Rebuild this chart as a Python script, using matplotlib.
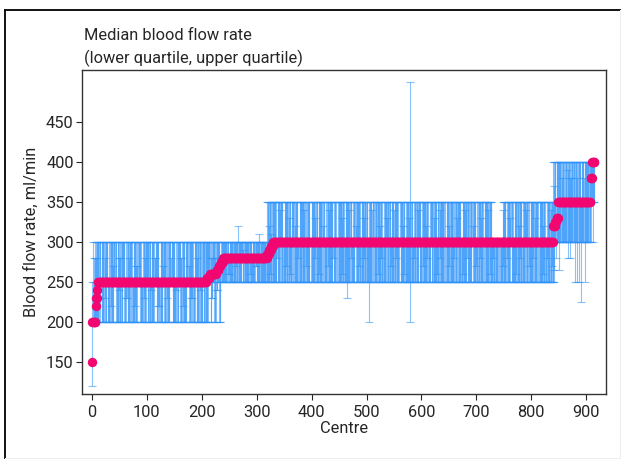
import matplotlib
matplotlib.use("Agg")
import matplotlib.pyplot as plt
from matplotlib.lines import Line2D
import numpy as np

plt.rcParams["font.family"] = ["Roboto", "DejaVu Sans"]

# ---- Data: centres ranked by median blood flow rate (ml/min) ----
# Each list is run-length coded as (value, number of consecutive centres).
MEDIAN_RUNS = [
    (150, 1), (200, 6), (220, 1), (230, 2), (240, 1),
    (250, 198),
    (255, 6), (260, 12), (265, 4), (270, 4), (275, 4),
    (280, 80),
    (285, 4), (290, 4), (295, 3),
    (300, 510),
    (320, 4), (325, 2), (330, 3),
    (350, 59),
    (380, 3),
    (400, 5),
]

UPPER_Q_RUNS = [
    # centres 0-10
    (200, 1), (250, 1), (300, 1), (280, 1), (250, 1), (300, 1), (280, 1),
    (300, 1), (280, 1), (300, 2),
    # median 250
    (300, 5), (250, 2), (300, 6), (280, 1), (300, 4), (250, 3), (300, 7),
    (270, 1), (300, 5), (250, 2), (300, 3), (280, 2), (300, 8), (250, 3),
    (300, 4), (280, 1), (300, 6), (250, 2), (300, 5), (270, 2), (300, 7),
    (250, 3), (300, 4), (280, 1), (300, 9), (250, 2), (300, 5), (280, 2),
    (300, 6), (250, 3), (300, 4), (270, 1), (300, 7), (250, 2), (300, 5),
    (280, 1), (300, 6), (250, 3), (300, 8), (280, 2), (300, 5), (250, 2),
    (300, 6), (270, 1), (300, 7), (250, 2), (300, 5), (280, 1), (300, 6),
    (250, 2), (300, 8),
    # step 255-275
    (300, 8), (280, 2), (300, 6), (280, 1), (300, 7), (280, 2), (300, 4),
    # median 280
    (300, 10), (280, 2), (300, 15), (320, 1), (300, 9), (290, 1), (300, 14),
    (280, 2), (300, 11), (310, 1), (300, 14),
    # step 285-295
    (350, 4), (320, 1), (350, 3), (310, 1), (350, 2),
    # median 300
    (350, 6), (300, 2), (350, 4), (340, 1), (350, 5), (300, 3), (350, 7),
    (330, 1), (350, 3), (300, 2), (350, 6), (320, 1), (350, 4), (300, 3),
    (350, 8), (340, 1), (350, 3), (300, 2), (350, 5), (300, 3), (350, 6),
    (330, 1), (350, 4), (300, 2), (350, 7), (320, 1), (350, 3), (300, 3),
    (350, 5), (340, 1), (350, 6), (300, 2), (350, 4), (300, 3), (350, 8),
    (330, 1), (350, 3), (300, 2), (350, 6), (340, 1), (350, 4), (300, 3),
    (350, 5), (320, 1), (350, 7), (300, 2), (350, 4), (330, 1), (350, 6),
    (300, 3), (350, 5), (340, 1), (350, 3), (300, 2), (350, 8), (320, 1),
    (350, 4), (300, 3), (350, 6), (330, 1), (350, 5), (300, 2), (350, 4),
    (340, 1), (350, 7), (300, 3), (350, 5), (320, 1), (350, 3), (300, 2),
    (350, 6), (330, 1), (500, 1), (350, 4), (300, 3), (350, 6), (340, 1),
    (350, 5), (300, 2), (350, 7), (320, 1), (350, 4), (300, 3), (350, 6),
    (330, 1), (350, 5), (300, 2), (350, 4), (340, 1), (350, 8), (300, 3),
    (350, 5), (320, 1), (350, 6), (300, 2), (350, 4), (330, 1), (350, 7),
    (300, 3), (350, 5), (340, 1), (350, 6), (300, 2), (350, 4), (320, 1),
    (350, 5), (300, 3), (350, 6), (330, 1), (350, 4), (300, 2), (350, 7),
    (340, 1), (350, 5), (300, 20), (340, 1), (350, 5), (300, 2), (350, 6),
    (330, 1), (350, 4), (300, 3), (350, 7), (320, 1), (350, 5), (300, 2),
    (350, 6), (340, 1), (350, 4), (300, 3), (350, 8), (330, 1), (350, 5),
    (300, 2), (350, 6), (320, 1), (350, 4), (300, 3), (350, 7), (340, 1),
    (350, 3),
    # step 320-330
    (400, 1), (370, 1), (400, 3), (350, 1), (400, 3),
    # median 350
    (400, 6), (380, 1), (400, 4), (350, 2), (400, 5), (390, 1), (400, 3),
    (380, 2), (400, 6), (350, 1), (400, 4), (380, 1), (400, 5), (350, 2),
    (400, 4), (380, 1), (400, 11),
    # medians 380 and 400
    (400, 3), (400, 5),
]

LOWER_Q_RUNS = [
    # centres 0-10
    (120, 1), (200, 10),
    # median 250
    (200, 4), (250, 3), (200, 5), (230, 1), (200, 3), (250, 2), (200, 6),
    (220, 1), (200, 4), (250, 4), (200, 5), (240, 1), (200, 6), (250, 3),
    (200, 4), (230, 2), (200, 5), (250, 2), (200, 7), (220, 1), (200, 3),
    (250, 5), (200, 6), (230, 1), (200, 4), (250, 3), (200, 5), (240, 1),
    (200, 6), (250, 4), (200, 3), (220, 2), (200, 6), (250, 3), (200, 5),
    (230, 1), (200, 4), (250, 5), (200, 6), (240, 1), (200, 4), (250, 3),
    (200, 5), (220, 1), (200, 6), (250, 4), (200, 4), (230, 2), (200, 5),
    (250, 3), (200, 6), (240, 1), (200, 4), (250, 2), (200, 5),
    # step 255-275
    (200, 3), (250, 4), (200, 2), (230, 2), (250, 3), (200, 4), (240, 2),
    (250, 3), (200, 3), (250, 4),
    # median 280
    (250, 9), (260, 2), (250, 12), (270, 1), (250, 10), (280, 2), (250, 13),
    (260, 1), (250, 9), (270, 2), (250, 19),
    # step 285-295
    (250, 5), (260, 1), (250, 5),
    # median 300
    (250, 7), (280, 1), (250, 5), (300, 2), (250, 8), (270, 1), (250, 6),
    (260, 1), (250, 4), (300, 2), (250, 9), (280, 1), (250, 5), (300, 1),
    (250, 7), (270, 1), (250, 6), (300, 2), (250, 8), (280, 1), (250, 5),
    (260, 1), (250, 7), (300, 2), (250, 6), (270, 1), (250, 9), (280, 1),
    (250, 5), (300, 2), (250, 8), (260, 1), (250, 8), (230, 1), (250, 6),
    (280, 1), (250, 7), (300, 2), (250, 5), (270, 1), (250, 8), (280, 1),
    (250, 9), (200, 1), (250, 6), (300, 2), (250, 7), (260, 1), (250, 5),
    (280, 1), (250, 8), (300, 2), (250, 6), (270, 1), (250, 9), (280, 1),
    (250, 5), (300, 2), (250, 7), (260, 1), (250, 9), (200, 1), (250, 6),
    (280, 1), (250, 8), (300, 2), (250, 5), (270, 1), (250, 7), (280, 1),
    (250, 6), (300, 2), (250, 9), (260, 1), (250, 5), (280, 1), (250, 8),
    (300, 2), (250, 6), (270, 1), (250, 7), (280, 1), (250, 5), (300, 2),
    (250, 9), (260, 1), (250, 6), (280, 1), (250, 8), (300, 2), (250, 5),
    (270, 1), (250, 7), (280, 1), (250, 6), (300, 2), (250, 9), (260, 1),
    (250, 5), (280, 1), (250, 8), (300, 2), (250, 6), (270, 1), (250, 7),
    (280, 1), (250, 5), (300, 2), (250, 9), (260, 1), (250, 6), (280, 1),
    (250, 8), (300, 2), (250, 5), (270, 1), (250, 7), (280, 1), (250, 6),
    (300, 2), (250, 9), (260, 1), (250, 5), (280, 1), (250, 8), (270, 1),
    (250, 2),
    # step 320-330
    (250, 2), (265, 1), (300, 2), (280, 1), (300, 3),
    # median 350
    (300, 1), (265, 1), (300, 16), (280, 1), (300, 3), (280, 1), (300, 8),
    (250, 1), (300, 3), (250, 1), (300, 2), (250, 1), (300, 3), (225, 1),
    (300, 5), (250, 1), (300, 10),
    # medians 380 and 400
    (350, 1), (300, 1), (350, 1),
    (350, 2), (300, 1), (350, 2),
]

TITLE_LINES = ["Median blood flow rate", "(lower quartile, upper quartile)"]
X_TICKS = [0, 100, 200, 300, 400, 500, 600, 700, 800, 900]
Y_TICKS = [150, 200, 250, 300, 350, 400, 450]

BAR_COLOR = "#2A92FA"
DOT_COLOR = "#F2066F"
TEXT_COLOR = "#262626"
FONT_SIZE = 11.8


def expand(runs):
    """Decode (value, count) runs into a flat array."""
    return np.concatenate([np.full(n, v, dtype=float) for v, n in runs])


median = expand(MEDIAN_RUNS)
lower_q = expand(LOWER_Q_RUNS)
upper_q = expand(UPPER_Q_RUNS)
assert len(median) == len(lower_q) == len(upper_q)
centre = np.arange(len(median))

fig = plt.figure(figsize=(6.25, 4.62), dpi=100)
ax = fig.add_axes([0.1312, 0.1472, 0.8384, 0.7013])

ax.errorbar(
    centre, median,
    yerr=[median - lower_q, upper_q - median],
    fmt="none", ecolor=BAR_COLOR, elinewidth=0.8, alpha=0.55,
    capsize=2.6, capthick=0.8, zorder=2,
)
ax.scatter(centre, median, s=46, color=DOT_COLOR, linewidths=0, zorder=3)

ax.set_xlim(-18, 936)
ax.set_ylim(110, 515)
ax.set_xticks(X_TICKS)
ax.set_yticks(Y_TICKS)
ax.tick_params(axis="both", direction="out", length=4, width=0.8,
               labelsize=FONT_SIZE, colors=TEXT_COLOR)
ax.tick_params(axis="x", pad=4)
ax.tick_params(axis="y", pad=2)
for side in ax.spines.values():
    side.set_color("#333333")
    side.set_linewidth(1.0)

ax.set_xlabel("Centre", fontsize=FONT_SIZE, color=TEXT_COLOR, labelpad=1)
ax.set_ylabel("Blood flow rate, ml/min", fontsize=FONT_SIZE, color=TEXT_COLOR,
              labelpad=5)

fig.text(0.1344, 0.924, TITLE_LINES[0], fontsize=FONT_SIZE, color=TEXT_COLOR,
         ha="left", va="center")
fig.text(0.1344, 0.874, TITLE_LINES[1], fontsize=FONT_SIZE, color=TEXT_COLOR,
         ha="left", va="center")

# Outer frame around the whole graphic
fx0, fx1 = 4.5 / 625, 619.5 / 625
fy0, fy1 = 1 - 457.5 / 462, 1 - 10 / 462
fig.add_artist(Line2D([fx0, fx1], [fy1, fy1], color="#111111", lw=1.4))
fig.add_artist(Line2D([fx0, fx0], [fy0, fy1], color="#111111", lw=1.4))
fig.add_artist(Line2D([fx1, fx1], [fy0, fy1], color="#eeeeee", lw=0.8))
fig.add_artist(Line2D([fx0, fx1], [fy0, fy0], color="#eeeeee", lw=0.8))

fig.savefig("out.png", dpi=100)
